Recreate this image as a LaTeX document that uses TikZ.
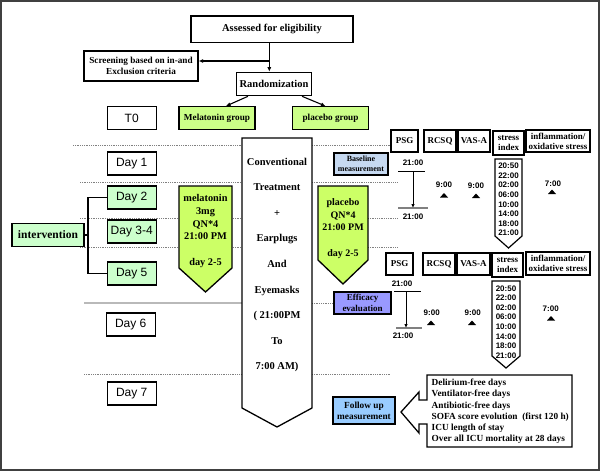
\documentclass[tikz,border=0pt]{standalone}
\usepackage{fontspec}
\setmainfont{Liberation Serif}
\setsansfont{Liberation Sans}
\usetikzlibrary{arrows.meta,calc}
\definecolor{pgreen}{HTML}{CCFFCC}
\definecolor{ygreen}{HTML}{CCFF66}
\definecolor{grpgreen}{HTML}{CCFF88}
\definecolor{baseblue}{HTML}{C6D9F1}
\definecolor{effblue}{HTML}{9999FF}
\definecolor{fublue}{HTML}{99CCFF}
\begin{document}
\begin{tikzpicture}[x=1pt,y=-1pt,
  bx/.style={draw, line width=1.3pt, inner sep=0pt, align=center, font=\bfseries\fontsize{10.5}{12}\selectfont},
  dbox/.style={draw, line width=1.3pt, inner sep=0pt, minimum width=49pt, minimum height=23pt, font=\sffamily\fontsize{12}{14}\selectfont},
  hdr/.style={draw, line width=1.3pt, inner sep=0pt, align=center, minimum height=22pt, font=\bfseries\fontsize{9}{10}\selectfont},
  dots/.style={gray, line width=0.9pt, dash pattern=on 0.9pt off 0.9pt},
  arr/.style={line width=1.1pt, -{Latex[length=4.5pt,width=4pt]}},
  tm/.style={font=\sffamily\bfseries\fontsize{8}{9.6}\selectfont, inner sep=0pt, align=center},
  chev/.style={draw, line width=1.3pt, line join=miter},
  tri/.style={fill=black},
]
\useasboundingbox (0,0) rectangle (600,471);
\draw[line width=2pt, black!75] (1,1) rectangle (599,470);

% dotted separators
\draw[dots] (73,145) -- (242,145) (312,145) -- (390,145);
\draw[dots] (80,182) -- (242,182) (312,182) -- (397,182);
\draw[dots] (80,218) -- (242,218) (368,218) -- (397,218);
\draw[dots] (80,247) -- (242,247) (368,247) -- (397,247);
\draw[gray!55, line width=1.4pt] (84,303) -- (242,303);
\draw[dots] (312,303) -- (334,303);
\draw[dots] (84,374) -- (242,374) (312,374) -- (390,374);

% top flow
\node[bx, minimum width=162pt, minimum height=26.5pt] (assess) at (272,29.3) {Assessed for eligibility};
\node[bx, minimum width=114pt, minimum height=30pt, font=\bfseries\fontsize{9.2}{10.5}\selectfont] (screen) at (141,66) {Screening based on in-and\\Exclusion criteria};
\node[bx, minimum width=75.5pt, minimum height=23.3pt] (rand) at (274,84) {Randomization};
\coordinate (split) at (269.3,61);
\draw[line width=1.1pt] (assess.south -| split) -- (split);
\draw[arr] (split) -- (split |- rand.north);
\draw[arr] (split) -- (screen.east |- split);

\node[dbox] (t0) at (131.7,118) {T0};
\node[bx, fill=grpgreen, minimum width=76pt, minimum height=22.6pt, font=\bfseries\fontsize{9.2}{11}\selectfont] (melgrp) at (217,118) {Melatonin group};
\node[bx, fill=grpgreen, minimum width=75.6pt, minimum height=22.6pt, font=\bfseries\fontsize{9.2}{11}\selectfont] (plagrp) at (330.5,118) {placebo group};
\draw[arr] ($(rand.south)+(-26,0)$) -- ($(melgrp.north)+(9,0)$);
\draw[arr] ($(rand.south)+(28,0)$) -- ($(plagrp.north)+(-5,0)$);

% days
\node[dbox] (day1) at (131.7,163.5) {Day 1};
\node[dbox, fill=pgreen] (day2) at (131.7,197.5) {Day 2};
\node[dbox, fill=pgreen] (day34) at (131.7,231.5) {Day 3-4};
\node[dbox, fill=pgreen] (day5) at (131.7,273.5) {Day 5};
\node[dbox] (day6) at (130.7,324.5) {Day 6};
\node[dbox] (day7) at (131.7,393.5) {Day 7};
\node[bx, fill=pgreen, minimum width=72pt, minimum height=23pt, font=\bfseries\fontsize{11.5}{13}\selectfont] (interv) at (48,235) {intervention};
\coordinate (br) at (88,235);
\draw[line width=1.3pt] (interv.east) -- (br);
\draw[line width=1.3pt] (day2.west) -| (br) |- (day5.west);

% melatonin chevron
\draw[chev, fill=ygreen] (179,186) -- (232,186) -- (232,268) -- (205.5,292) -- (179,268) -- cycle;
\node[font=\bfseries\fontsize{10.3}{12.8}\selectfont, align=center, inner sep=0pt] (meltxt) at (205.5,231) {melatonin\\3mg\\QN*4\\21:00 PM\\[12.8pt]day 2-5};

% central treatment chevron
\draw[chev, fill=white] (242,138) -- (312,138) -- (312,408) -- (277,427) -- (242,408) -- cycle;
\node[font=\bfseries\fontsize{10.5}{25.6}\selectfont, align=center, inner sep=0pt] (conv) at (277,265) {Conventional\\Treatment\\+\\Earplugs\\And\\Eyemasks\\( 21:00PM\\To\\7:00 AM)};

% placebo chevron
\draw[chev, fill=ygreen] (318,186) -- (368,186) -- (368,260) -- (343,284) -- (318,260) -- cycle;
\node[font=\bfseries\fontsize{10}{12.75}\selectfont, align=center, inner sep=0pt] (platxt) at (343,228.5) {placebo\\QN*4\\21:00 PM\\[12.75pt]day 2-5};

% baseline measurement block
\node[bx, fill=baseblue, minimum width=54pt, minimum height=22pt, line width=1.1pt, font=\bfseries\fontsize{8}{9.5}\selectfont] (base) at (361,164) {Baseline\\measurement};
\node[hdr, minimum width=27pt] (psg1) at (404.5,141) {PSG};
\node[hdr, minimum width=32pt] (rcsq1) at (440,141) {RCSQ};
\node[hdr, minimum width=32pt] (vas1) at (474,141) {VAS-A};
\node[hdr, minimum width=31pt, minimum height=24pt] (str1) at (508.5,143) {stress\\index};
\node[hdr, minimum width=64pt] (inf1) at (558,141) {inflammation/\\oxidative stress};

\node[tm] (p1a) at (413,163) {21:00};
\node[tm] (p1b) at (413,216.5) {21:00};
\coordinate (p1t) at (413,171);
\coordinate (p1d) at (413,208);
\draw[line width=1pt] ($(p1t)+(-15,0)$) -- ($(p1t)+(12,0)$);
\draw[gray, line width=1.6pt] ($(p1d)+(-15,0)$) -- ($(p1d)+(15,0)$);
\draw[line width=0.9pt, -{Latex[length=4pt,width=3.5pt]}] (p1t) -- (p1d);
\node[tm] (r1) at (444,185) {9:00};
\fill (440,197.5) -- (448,197.5) -- (444,193) -- cycle;
\node[tm] (v1) at (476,185.5) {9:00};
\fill (472,198) -- (480,198) -- (476,193.5) -- cycle;
\node[tm] (i1) at (553,183.5) {7:00};
\fill (548,194) -- (556,194) -- (552,189.5) -- cycle;

\draw[chev, fill=white, line width=1.2pt] (495,159) -- (522,159) -- (522,236) -- (508.5,248) -- (495,236) -- cycle;
\node[tm] (s1) at (508.5,199.5) {20:50\\22:00\\02:00\\06:00\\10:00\\14:00\\18:00\\21:00};

% efficacy block
\node[bx, fill=effblue, minimum width=57pt, minimum height=22pt, line width=1.1pt, font=\bfseries\fontsize{9}{10.5}\selectfont] (eff) at (362.5,303) {Efficacy\\evaluation};
\node[hdr, minimum width=27pt] (psg2) at (399.5,264) {PSG};
\node[hdr, minimum width=32pt] (rcsq2) at (439,264) {RCSQ};
\node[hdr, minimum width=33pt] (vas2) at (473.5,264) {VAS-A};
\node[hdr, minimum width=31pt, minimum height=24pt] (str2) at (507.5,265) {stress\\index};
\node[hdr, minimum width=64pt, minimum height=23pt] (inf2) at (558,263.5) {inflammation/\\oxidative stress};

\node[tm] (p2a) at (402,284) {21:00};
\node[tm] (p2b) at (403,336) {21:00};
\coordinate (p2t) at (406,291);
\coordinate (p2d) at (406,328);
\draw[line width=1pt] ($(p2t)+(-12,0)$) -- ($(p2t)+(15,0)$);
\draw[gray, line width=1.6pt] ($(p2d)+(-10,0)$) -- ($(p2d)+(16,0)$);
\draw[line width=0.9pt, -{Latex[length=4pt,width=3.5pt]}] (p2t) -- (p2d);
\node[tm] (r2) at (431.7,313) {9:00};
\fill (427,325) -- (435,325) -- (431,320.5) -- cycle;
\node[tm] (v2) at (472.7,313) {9:00};
\fill (468,325) -- (476,325) -- (472,320.5) -- cycle;
\node[tm] (i2) at (550.7,309) {7:00};
\fill (547,320.5) -- (555,320.5) -- (551,316) -- cycle;

\draw[chev, fill=white, line width=1.2pt] (492,281) -- (520,281) -- (520,356) -- (506,368) -- (492,356) -- cycle;
\node[tm] (s2) at (506,322) {20:50\\22:00\\02:00\\06:00\\10:00\\14:00\\18:00\\21:00};

% follow up
\node[bx, fill=fublue, minimum width=62pt, minimum height=27pt, line width=1.1pt, font=\bfseries\fontsize{9.3}{11}\selectfont] (fu) at (364,410.5) {Follow up\\measurement};
\draw[chev, fill=white] (427,375) -- (572,375) -- (572,447) -- (427,447) -- (427,424) -- (419,424) -- (419,433) -- (401,412) -- (419,392) -- (419,400) -- (427,400) -- cycle;
\node[anchor=west, align=left, inner sep=0pt, font=\bfseries\fontsize{9.3}{11.2}\selectfont] (outc) at (431.5,411.5) {Delirium-free days\\Ventilator-free days\\Antibiotic-free days\\SOFA score evolution\ \ (first 120 h)\\ICU length of stay\\Over all ICU mortality at 28 days};
\end{tikzpicture}
\end{document}
